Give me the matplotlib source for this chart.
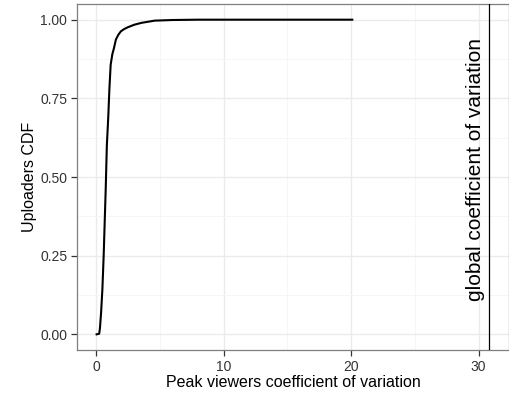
import matplotlib
matplotlib.use("Agg")
import matplotlib.pyplot as plt
from matplotlib.ticker import MultipleLocator

plt.rcParams['font.family'] = ['Liberation Sans', 'DejaVu Sans']

# Empirical CDF of the peak-viewers coefficient of variation per uploader
cv_values = [0.05, 0.25, 0.31, 0.40, 0.50, 0.60, 0.68, 0.76, 0.85, 0.96, 1.05,
             1.15, 1.28, 1.41, 1.56, 1.75, 1.95, 2.20, 2.50, 3.00, 3.57, 4.60,
             6.00, 8.00, 12.0, 16.0, 20.1]
cdf_values = [0.0, 0.002, 0.02, 0.07, 0.143, 0.249, 0.355, 0.46, 0.60, 0.69, 0.78,
              0.857, 0.89, 0.91, 0.937, 0.952, 0.963, 0.97, 0.976, 0.984, 0.99, 0.997,
              0.999, 1.0, 1.0, 1.0, 1.0]
global_cv = 30.85
global_label = "global coefficient of variation"

x_ticks = [0, 10, 20, 30]
y_ticks = [0.00, 0.25, 0.50, 0.75, 1.00]
y_tick_labels = ["0.00", "0.25", "0.50", "0.75", "1.00"]

fig = plt.figure(figsize=(5.10, 3.96), dpi=100)
ax = fig.add_axes([0.151, 0.116, 0.847, 0.874])

ax.plot(cv_values, cdf_values, color="black", linewidth=1.5, zorder=3)
ax.axvline(global_cv, color="black", linewidth=0.9, zorder=3)
ax.text(global_cv - 0.35, 0.525, global_label, rotation=90, ha="right", va="center",
        fontsize=15, color="black")

xmin, xmax = 0.05, global_cv
xr = xmax - xmin
ax.set_xlim(xmin - 0.05 * xr, xmax + 0.05 * xr)
ax.set_ylim(-0.05, 1.05)

ax.set_xticks(x_ticks)
ax.set_yticks(y_ticks)
ax.set_yticklabels(y_tick_labels)
ax.xaxis.set_minor_locator(MultipleLocator(5))
ax.yaxis.set_minor_locator(MultipleLocator(0.125))

ax.grid(True, which="major", color="#EBEBEB", linewidth=1.0, zorder=0)
ax.grid(True, which="minor", color="#F5F5F5", linewidth=0.6, zorder=0)
ax.set_axisbelow(True)

for s in ax.spines.values():
    s.set_color("#7F7F7F")
    s.set_linewidth(0.9)

ax.tick_params(axis="both", which="major", length=4, width=0.9, color="#333333",
               labelsize=10, labelcolor="#333333", pad=3)
ax.tick_params(axis="both", which="minor", length=0)

ax.set_xlabel("Peak viewers coefficient of variation", fontsize=11.5, labelpad=1)
ax.set_ylabel("Uploaders CDF", fontsize=11.5, labelpad=2)

fig.savefig("out.png", dpi=100)
